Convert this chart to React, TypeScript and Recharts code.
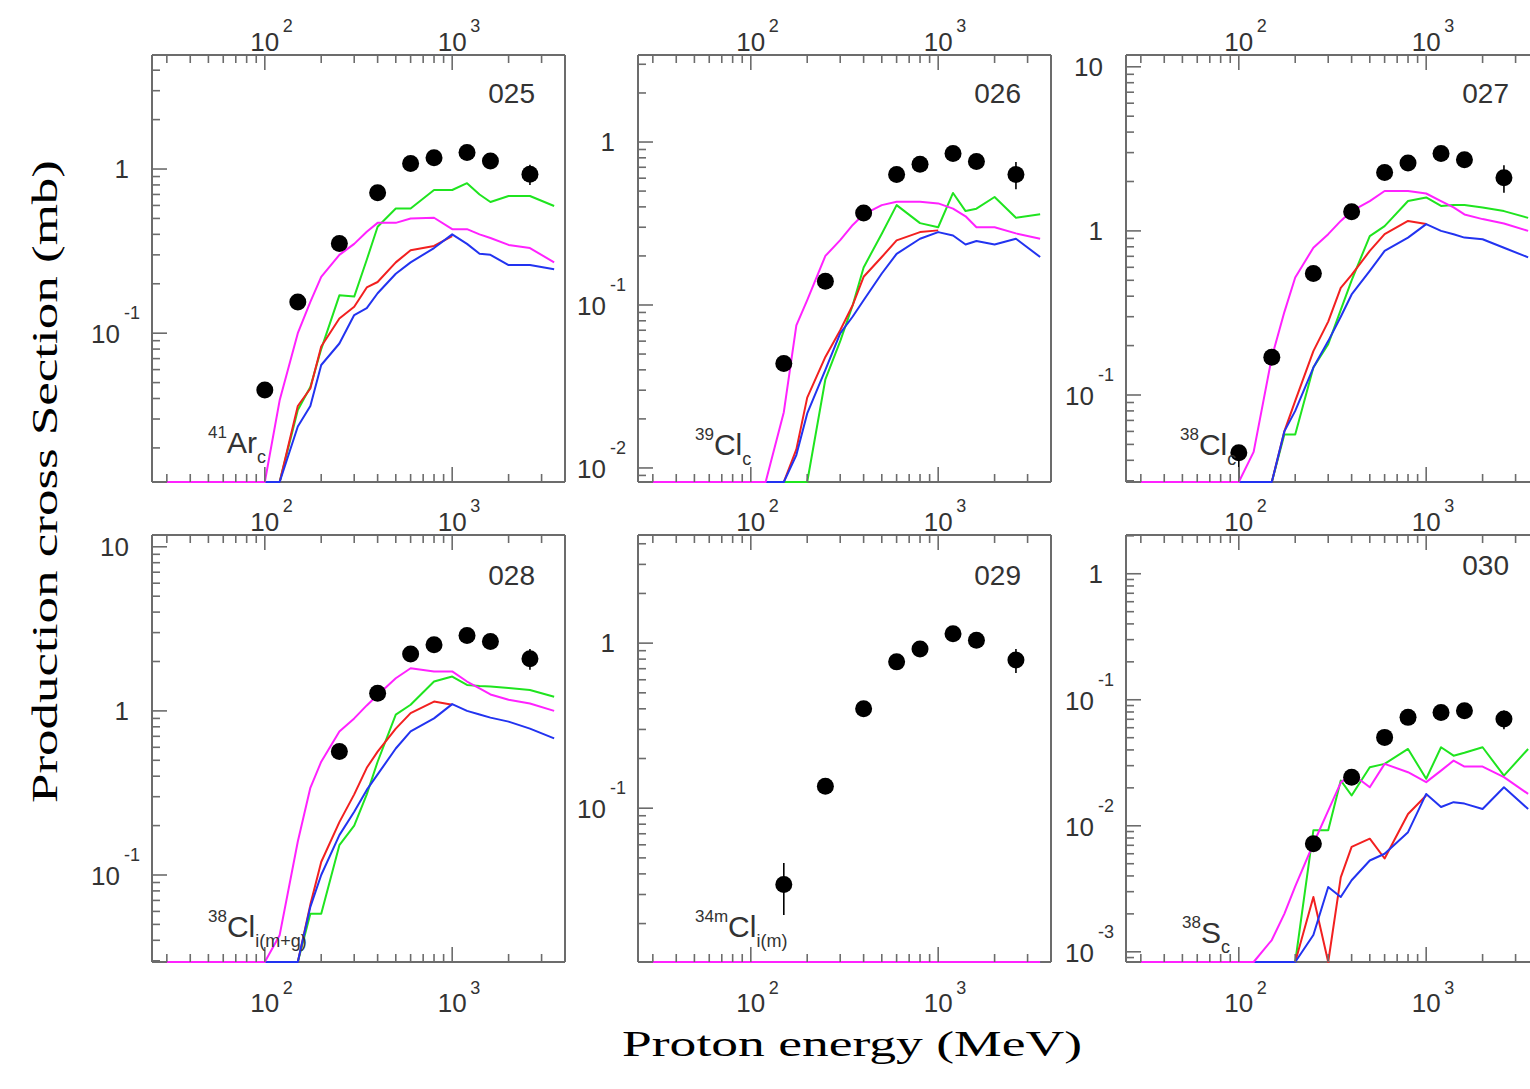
import React from 'react';
import { ComposedChart, Line, Scatter, ErrorBar, XAxis, YAxis } from 'recharts';

// model grid (MeV) shared by all calculated curves
const energies = [30, 60, 100, 120, 150, 175, 200, 250, 300, 350, 400, 500, 600, 800, 1000, 1200, 1400, 1600, 2000, 2600, 3500];
// energies of the measured points
const dotEnergies = [100, 150, 250, 400, 600, 800, 1200, 1600, 2600];

const xMajor = [100, 1000];
const xMajorExp = ['2', '3'];
const xMinor = [30, 40, 50, 60, 70, 80, 90, 200, 300, 400, 500, 600, 700, 800, 900, 2000, 3000, 4000];
const xDomain = [25, 4000];

// 0 = below the frame, null = not calculated
const green025 = [0, 0, 0, 0, 0.034, 0.047, 0.08, 0.17, 0.167, 0.28, 0.445, 0.575, 0.575, 0.745, 0.745, 0.82, 0.7, 0.63, 0.685, 0.685, 0.595];
const red025 = [0, 0, 0, 0, 0.036, 0.046, 0.083, 0.123, 0.145, 0.19, 0.205, 0.27, 0.32, 0.34, 0.39, null, null, null, null, null, null];
const blue025 = [0, 0, 0, 0, 0.027, 0.036, 0.064, 0.0865, 0.129, 0.142, 0.175, 0.23, 0.27, 0.33, 0.4, 0.35, 0.305, 0.3, 0.26, 0.26, 0.245];
const magenta025 = [0, 0, 0, 0.039, 0.1, 0.155, 0.22, 0.3, 0.35, 0.415, 0.47, 0.47, 0.5, 0.505, 0.43, 0.43, 0.4, 0.38, 0.345, 0.33, 0.27];
const dots025 = [0.045, 0.155, 0.352, 0.717, 1.08, 1.17, 1.26, 1.12, 0.93];
const err025 = [0.004, 0.012, 0.025, 0.05, 0.07, 0.08, 0.09, 0.08, 0.13];

const green026 = [0, 0, 0, 0, 0, 0, 0, 0.035, 0.06, 0.1, 0.17, 0.274, 0.41, 0.318, 0.3, 0.487, 0.377, 0.39, 0.46, 0.343, 0.36];
const red026 = [0, 0, 0, 0, 0, 0.013, 0.027, 0.048, 0.07, 0.1, 0.149, 0.197, 0.249, 0.28, 0.287, null, null, null, null, null, null];
const blue026 = [0, 0, 0, 0, 0, 0.012, 0.0216, 0.04, 0.067, 0.085, 0.107, 0.156, 0.206, 0.255, 0.28, 0.267, 0.235, 0.247, 0.235, 0.255, 0.197];
const magenta026 = [0, 0, 0, 0, 0.022, 0.075, 0.107, 0.2, 0.25, 0.31, 0.36, 0.41, 0.43, 0.43, 0.42, 0.39, 0.35, 0.3, 0.3, 0.275, 0.255];
const dots026 = [null, 0.0437, 0.14, 0.367, 0.633, 0.73, 0.85, 0.76, 0.633];
const err026 = [null, 0.004, 0.01, 0.025, 0.045, 0.05, 0.06, 0.055, 0.12];

const green027 = [0, 0, 0, 0, 0, 0.0575, 0.0575, 0.147, 0.204, 0.33, 0.5, 0.93, 1.07, 1.52, 1.6, 1.42, 1.44, 1.44, 1.39, 1.32, 1.2];
const red027 = [0, 0, 0, 0, 0.029, 0.06, 0.092, 0.185, 0.28, 0.45, 0.54, 0.755, 0.955, 1.15, 1.1, null, null, null, null, null, null];
const blue027 = [0, 0, 0, 0, 0.025, 0.06, 0.08, 0.147, 0.213, 0.3, 0.41, 0.57, 0.755, 0.91, 1.1, 1.0, 0.955, 0.91, 0.89, 0.79, 0.69];
const magenta027 = [0, 0, 0, 0.045, 0.17, 0.32, 0.52, 0.79, 0.955, 1.15, 1.32, 1.52, 1.75, 1.75, 1.69, 1.52, 1.39, 1.26, 1.18, 1.11, 1.0];
const dots027 = [0.0445, 0.17, 0.55, 1.31, 2.27, 2.59, 2.96, 2.71, 2.11];
const err027: any[] = [[0.015, 0.005], 0.012, 0.04, 0.09, 0.15, 0.17, 0.2, 0.18, 0.4];

const green028 = [0, 0, 0, 0, 0, 0.058, 0.058, 0.152, 0.2, 0.31, 0.49, 0.95, 1.09, 1.51, 1.62, 1.44, 1.42, 1.41, 1.38, 1.34, 1.22];
const red028 = [0, 0, 0, 0, 0, 0.066, 0.12, 0.21, 0.31, 0.45, 0.565, 0.78, 0.97, 1.14, 1.09, null, null, null, null, null, null];
const blue028 = [0, 0, 0, 0, 0, 0.064, 0.1, 0.175, 0.243, 0.33, 0.41, 0.59, 0.75, 0.9, 1.1, 1.0, 0.95, 0.91, 0.86, 0.78, 0.68];
const magenta028 = [0, 0, 0, 0.043, 0.16, 0.34, 0.49, 0.75, 0.9, 1.08, 1.25, 1.58, 1.82, 1.74, 1.74, 1.51, 1.37, 1.26, 1.17, 1.11, 1.0];
const dots028 = [null, null, 0.565, 1.28, 2.22, 2.53, 2.88, 2.65, 2.08];
const err028 = [null, null, 0.04, 0.09, 0.15, 0.17, 0.2, 0.18, 0.3];

const green029 = [0, 0, 0, 0, 0, 0, 0, 0, 0, 0, 0, 0, 0, 0, 0, 0, 0, 0, 0, 0, 0];
const red029 = [0, 0, 0, 0, 0, 0, 0, 0, 0, 0, 0, 0, 0, 0, 0, null, null, null, null, null, null];
const blue029 = [0, 0, 0, 0, 0, 0, 0, 0, 0, 0, 0, 0, 0, 0, 0, 0, 0, 0, 0, 0, 0];
const magenta029 = [0, 0, 0, 0, 0, 0, 0, 0, 0, 0, 0, 0, 0, 0, 0, 0, 0, 0, 0, 0, 0];
const dots029 = [null, 0.0345, 0.136, 0.4, 0.77, 0.92, 1.14, 1.04, 0.79];
const err029 = [null, 0.012, 0.01, 0.028, 0.05, 0.06, 0.08, 0.07, 0.13];

const green030 = [0, 0, 0, 0, 0, 0, 0, 0.0092, 0.0092, 0.0229, 0.0174, 0.0291, 0.031, 0.0407, 0.0236, 0.042, 0.036, 0.038, 0.042, 0.025, 0.0407];
const red030 = [0, 0, 0, 0, 0, 0, 0, 0.00272, 0, 0.0039, 0.0068, 0.0079, 0.0055, 0.0124, 0.0174, null, null, null, null, null, null];
const blue030 = [0, 0, 0, 0, 0, 0, 0, 0.00136, 0.00327, 0.00272, 0.0037, 0.0053, 0.006, 0.0089, 0.0179, 0.0141, 0.0154, 0.015, 0.0136, 0.0202, 0.0136];
const magenta030 = [0, 0, 0, 0, 0.00124, 0.002, 0.0033, 0.0072, 0.0132, 0.022, 0.026, 0.0202, 0.031, 0.0266, 0.0222, 0.0274, 0.0329, 0.0295, 0.0295, 0.0243, 0.0179];
const dots030 = [null, null, 0.0072, 0.0243, 0.0503, 0.0725, 0.0794, 0.0818, 0.0703];
const err030 = [null, null, 0.0005, 0.0017, 0.0035, 0.005, 0.0055, 0.0057, 0.012];

const panelIds = ['025', '026', '027', '028', '029', '030'];
const isoLabels = [
  { sup: '41', main: 'Ar', sub: 'c' },
  { sup: '39', main: 'Cl', sub: 'c' },
  { sup: '38', main: 'Cl', sub: 'c' },
  { sup: '38', main: 'Cl', sub: 'i(m+g)' },
  { sup: '34m', main: 'Cl', sub: 'i(m)' },
  { sup: '38', main: 'S', sub: 'c' },
];
const yDomains = [[0.0124, 4.95], [0.0082, 3.42], [0.0295, 11.8], [0.0295, 11.8], [0.0117, 4.52], [0.00083, 2.03]];
const yMajors = [[0.1, 1], [0.01, 0.1, 1], [0.1, 1, 10], [0.1, 1, 10], [0.1, 1], [0.001, 0.01, 0.1, 1]];

const panels = [
  { green: green025, red: red025, blue: blue025, magenta: magenta025, dots: dots025, err: err025 },
  { green: green026, red: red026, blue: blue026, magenta: magenta026, dots: dots026, err: err026 },
  { green: green027, red: red027, blue: blue027, magenta: magenta027, dots: dots027, err: err027 },
  { green: green028, red: red028, blue: blue028, magenta: magenta028, dots: dots028, err: err028 },
  { green: green029, red: red029, blue: blue029, magenta: magenta029, dots: dots029, err: err029 },
  { green: green030, red: red030, blue: blue030, magenta: magenta030, dots: dots030, err: err030 },
];

// layout: plot box sits at (PAD_L, PAD_T) inside each chart; axes take 1px each
const BOX_W = 413;
const BOX_H = 427;
const PAD_L = 80;
const PAD_T = 45;
const PAD_R = 22;
const PAD_B = 60;
const AX = 1;
const M = { top: PAD_T - AX, right: PAD_R - AX, bottom: PAD_B - AX, left: PAD_L - AX };
const colLeft = [152, 638, 1126];
const rowTop = [55, 535];
const numBaseline = [48, 48, 48, 50, 50, 40];
const isoPos = [[208, 453], [695, 455], [1180, 455], [208, 937], [695, 937], [1182, 943]];

const FRAME = '#6c6c6c';
const LABEL = '#333';
const SANS = '"Liberation Sans", Arial, Helvetica, sans-serif';
const SERIF = '"Liberation Serif", "Times New Roman", serif';
const COLORS = { green: '#1fe41f', red: '#f22020', blue: '#2233f0', magenta: '#ff22ff' };

const lift = (v: number | null, lo: number) => (v == null ? null : Math.max(v, lo));

const minorTicks = (dom: number[]) => {
  const out: number[] = [];
  const k0 = Math.floor(Math.log10(dom[0]));
  const k1 = Math.ceil(Math.log10(dom[1]));
  for (let k = k0; k <= k1; k++) {
    for (let m = 2; m <= 9; m++) {
      const v = m * Math.pow(10, k);
      if (v >= dom[0] && v <= dom[1]) out.push(v);
    }
  }
  return out;
};

const xTick = (side: 'top' | 'bottom', showLabel: boolean) => (props: any) => {
  const { x, y, payload } = props;
  const mi = xMajor.indexOf(payload.value);
  const len = mi >= 0 ? 15 : 8;
  const dir = side === 'bottom' ? -1 : 1;
  const base = side === 'bottom' ? y + 50 : y - 4;
  const sup = side === 'bottom' ? y + 32 : y - 23;
  return (
    <g>
      <line x1={x} y1={y} x2={x} y2={y + dir * len} stroke={FRAME} strokeWidth={1.6} />
      {showLabel && mi >= 0 && (
        <g fontFamily={SANS} fill={LABEL}>
          <text x={x} y={base} fontSize={26} textAnchor="middle">10</text>
          <text x={x + 18} y={sup} fontSize={18} textAnchor="start">{xMajorExp[mi]}</text>
        </g>
      )}
    </g>
  );
};

const yTick = (side: 'left' | 'right', majors: number[]) => (props: any) => {
  const { x, y, payload } = props;
  const v = payload.value;
  const isMajor = majors.some((m) => Math.abs(m - v) / m < 1e-6);
  const len = isMajor ? 15 : 8;
  const dir = side === 'left' ? 1 : -1;
  let label: any = null;
  if (side === 'left' && isMajor) {
    if (v >= 1) {
      label = (
        <text x={x - 23} y={y + 9} fontSize={26} textAnchor="end" fontFamily={SANS} fill={LABEL}>
          {String(Math.round(v))}
        </text>
      );
    } else {
      const exp = String(Math.round(Math.log10(v)));
      label = (
        <g fontFamily={SANS} fill={LABEL}>
          <text x={x - 32} y={y + 10} fontSize={26} textAnchor="end">10</text>
          <text x={x - 28} y={y - 14} fontSize={18} textAnchor="start">{exp}</text>
        </g>
      );
    }
  }
  return (
    <g>
      <line x1={x} y1={y} x2={x + dir * len} y2={y} stroke={FRAME} strokeWidth={1.6} />
      {label}
    </g>
  );
};

const Dot = (p: any) => <circle cx={p.cx} cy={p.cy} r={8.5} fill="#000" />;

function Panel({ idx }: { idx: number }) {
  const p = panels[idx];
  const dom = yDomains[idx];
  const lo = dom[0];
  const rows = energies.map((e, i) => ({
    e,
    green: lift(p.green[i], lo),
    red: lift(p.red[i], lo),
    blue: lift(p.blue[i], lo),
    magenta: lift(p.magenta[i], lo),
  }));
  const dots = dotEnergies
    .map((e, i) => ({ e, v: p.dots[i], err: p.err[i] }))
    .filter((d) => d.v != null);
  const yTicks = [...yMajors[idx], ...minorTicks(dom)].sort((a, b) => a - b);
  const xTicks = [...xMajor, ...xMinor].sort((a, b) => a - b);
  const left = colLeft[idx % 3];
  const top = rowTop[Math.floor(idx / 3)];
  const bottomRow = idx >= 3;
  const axisLine = { stroke: FRAME, strokeWidth: 2 };
  // every value already lies inside the domains, so no clipping is needed and
  // the curves that sit on the lower frame stay visible
  const common = {
    type: 'number' as const,
    scale: 'log' as const,
    allowDataOverflow: false,
    interval: 0 as const,
    tickSize: 0,
    tickMargin: 0,
    tickLine: false,
    axisLine,
  };
  return (
    <div style={{ position: 'absolute', left: left - PAD_L, top: top - PAD_T }}>
      <ComposedChart width={BOX_W + PAD_L + PAD_R} height={BOX_H + PAD_T + PAD_B} data={rows} margin={M}>
        <XAxis xAxisId="b" dataKey="e" orientation="bottom" domain={xDomain} ticks={xTicks} height={AX} tick={xTick('bottom', bottomRow)} {...common} />
        <XAxis xAxisId="t" dataKey="e" orientation="top" domain={xDomain} ticks={xTicks} height={AX} tick={xTick('top', true)} {...common} />
        <YAxis yAxisId="l" orientation="left" domain={dom} ticks={yTicks} width={AX} tick={yTick('left', yMajors[idx])} {...common} />
        <YAxis yAxisId="r" orientation="right" domain={dom} ticks={yTicks} width={AX} tick={yTick('right', yMajors[idx])} {...common} />
        {(['green', 'red', 'blue', 'magenta'] as const).map((k, j) => (
          <Line
            key={k}
            xAxisId="b"
            yAxisId="l"
            dataKey={k}
            type="linear"
            stroke={COLORS[k]}
            strokeWidth={2}
            dot={false}
            activeDot={false}
            strokeLinejoin="round"
            zIndex={550 + j}
            isAnimationActive={false}
          />
        ))}
        <Scatter xAxisId="b" yAxisId="l" data={dots} dataKey="v" shape={Dot} isAnimationActive={false}>
          <ErrorBar dataKey="err" direction="y" width={0} stroke="#000" strokeWidth={1.6} />
        </Scatter>
      </ComposedChart>
    </div>
  );
}

export default function App() {
  return (
    <div style={{ position: 'absolute', left: 0, top: 0, width: 1530, height: 1089, overflow: 'hidden', background: '#fff' }}>
      {panelIds.map((id, i) => (
        <Panel key={id} idx={i} />
      ))}
      <svg width={1530} height={1089} style={{ position: 'absolute', left: 0, top: 0, pointerEvents: 'none' }}>
        {panelIds.map((id, i) => {
          const left = colLeft[i % 3];
          const top = rowTop[Math.floor(i / 3)];
          const iso = isoLabels[i];
          return (
            <g key={id}>
              <text x={left + BOX_W - 30} y={top + numBaseline[i]} fontSize={28} textAnchor="end" fontFamily={SANS} fill={LABEL}>
                {id}
              </text>
              <text x={isoPos[i][0]} y={isoPos[i][1] - 15} fontFamily={SANS} fill={LABEL}>
                <tspan fontSize={17}>{iso.sup}</tspan>
                <tspan fontSize={30} dy={15}>{iso.main}</tspan>
                <tspan fontSize={18} dy={10}>{iso.sub}</tspan>
              </text>
            </g>
          );
        })}
        <text
          transform="translate(57, 803) rotate(-90)"
          x={0}
          y={0}
          fontSize={36}
          fontFamily={SERIF}
          fill="#000"
          textLength={643}
          lengthAdjust="spacingAndGlyphs"
        >
          Production cross Section (mb)
        </text>
        <text x={622} y={1056} fontSize={36} fontFamily={SERIF} fill="#000" textLength={460} lengthAdjust="spacingAndGlyphs">
          Proton energy (MeV)
        </text>
      </svg>
    </div>
  );
}
